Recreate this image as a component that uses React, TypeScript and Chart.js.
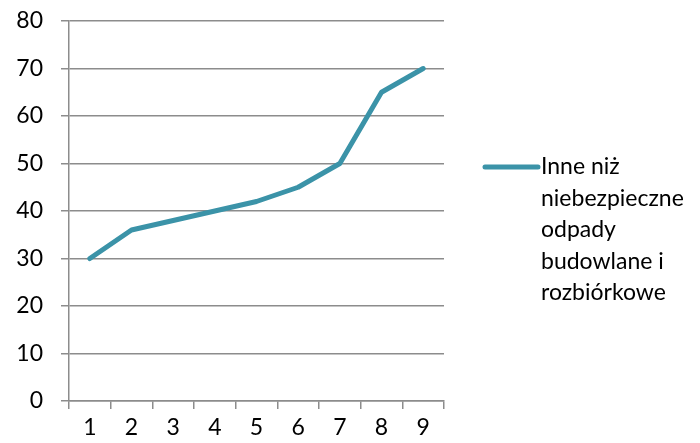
import React, { useEffect, useRef } from "react";
import { Chart, registerables } from "chart.js";

Chart.register(...registerables);

const categories = ["1", "2", "3", "4", "5", "6", "7", "8", "9"];
const seriesName = "Inne niż niebezpieczne odpady budowlane i rozbiórkowe";
const legendLines = ["Inne niż", "niebezpieczne", "odpady", "budowlane i", "rozbiórkowe"];
const values = [30, 36, 38, 40, 42, 45, 50, 65, 70];
const yMin = 0;
const yMax = 80;
const yStep = 10;

const LINE_COLOR = "#3b93a8";
const GRID_COLOR = "#8c8c8c";
const FONT = "Lato, 'Noto Sans', sans-serif";

const legendPlugin = {
  id: "customLegend",
  afterDraw(chart: any) {
    const ctx = chart.ctx;
    ctx.save();
    ctx.strokeStyle = LINE_COLOR;
    ctx.lineWidth = 5;
    ctx.lineCap = "round";
    ctx.beginPath();
    ctx.moveTo(485, 167);
    ctx.lineTo(538, 167);
    ctx.stroke();
    ctx.fillStyle = "#000";
    ctx.font = `23px ${FONT}`;
    ctx.textBaseline = "middle";
    ctx.textAlign = "left";
    legendLines.forEach((t, i) => {
      ctx.fillText(t, 541, 167 + i * 31.5);
    });
    ctx.restore();
  },
};

export default function App() {
  const ref = useRef<HTMLCanvasElement>(null);
  useEffect(() => {
    if (!ref.current) return;
    const chart = new Chart(ref.current, {
      type: "line",
      data: {
        labels: categories,
        datasets: [
          {
            label: seriesName,
            data: values,
            borderColor: LINE_COLOR,
            backgroundColor: LINE_COLOR,
            borderWidth: 5,
            pointRadius: 0,
            tension: 0,
            borderCapStyle: "round",
            borderJoinStyle: "round",
          },
        ],
      },
      options: {
        animation: false,
        responsive: false,
        maintainAspectRatio: false,
        layout: { padding: { top: 21, right: 256, left: 0, bottom: 0 } },
        plugins: { legend: { display: false }, tooltip: { enabled: false } },
        scales: {
          x: {
            offset: true,
            grid: {
              display: true,
              offset: true,
              drawOnChartArea: false,
              drawTicks: true,
              tickLength: 8,
              color: GRID_COLOR,
              lineWidth: 1.5,
            },
            border: { display: true, color: GRID_COLOR, width: 1.5 },
            ticks: { color: "#000", font: { family: FONT, size: 23 }, padding: 5, maxRotation: 0 },
            afterFit: (s: any) => {
              s.height = 42;
              s.paddingLeft = 0;
              s.paddingRight = 0;
            },
          },
          y: {
            min: yMin,
            max: yMax,
            grid: { color: GRID_COLOR, lineWidth: 1.5, tickLength: 8 },
            border: { display: true, color: GRID_COLOR, width: 1.5 },
            ticks: { stepSize: yStep, color: "#000", font: { family: FONT, size: 23 }, padding: 18 },
            afterFit: (s: any) => {
              s.width = 69;
              s.paddingTop = 0;
              s.paddingBottom = 0;
            },
          },
        },
      },
      plugins: [legendPlugin],
    });
    return () => chart.destroy();
  }, []);
  return (
    <div style={{ position: "fixed", left: 0, top: 0, width: 700, height: 443, background: "#fff" }}>
      <canvas ref={ref} width={700} height={443} style={{ width: 700, height: 443 }} />
    </div>
  );
}
